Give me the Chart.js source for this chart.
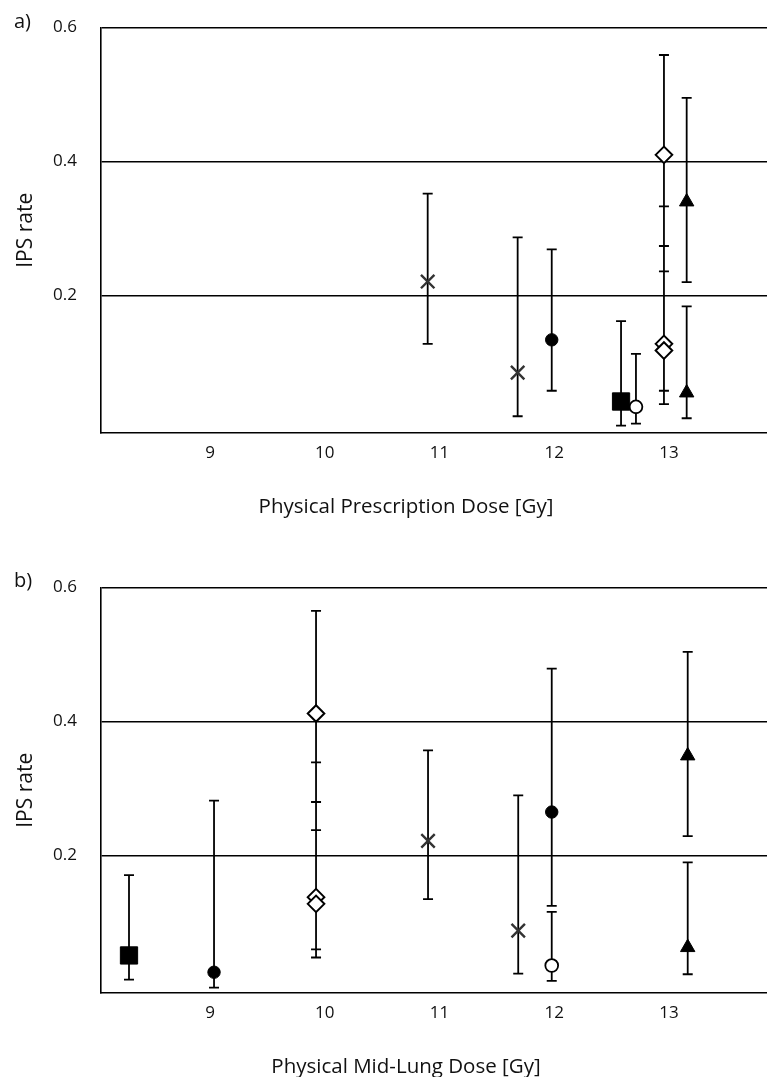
<!DOCTYPE html>
<html>
<head>
<meta charset="utf-8">
<script src="https://cdn.jsdelivr.net/npm/chart.js@4/dist/chart.umd.min.js"></script>
<style>
  html, body { margin: 0; padding: 0; background: #fff; }
  body { width: 767px; height: 1077px; position: relative; overflow: hidden; font-family: "Open Sans", sans-serif; color: #111; }
  .wrap { position: absolute; left: 0; width: 767px; }
  .lbl { position: absolute; font-size: 20px; white-space: nowrap; color: #111; }
  .xt { position: absolute; font-size: 20.5px; white-space: nowrap; transform: translateX(-50%); color: #111; }
</style>
</head>
<body>
<div class="wrap" style="top:0;height:560px;"><canvas id="ca" width="767" height="560"></canvas></div>
<div class="wrap" style="top:560px;height:517px;"><canvas id="cb" width="767" height="517"></canvas></div>
<div class="lbl" style="left:14px;top:7px;">a)</div>
<div class="lbl" style="left:14px;top:566px;">b)</div>
<div class="xt" style="left:406px;top:491px;">Physical Prescription Dose [Gy]</div>
<div class="xt" style="left:406px;top:1051px;">Physical Mid-Lung Dose [Gy]</div>
<script>
// ---- axis ticks ----
const xTicks = [9, 10, 11, 12, 13];
const yTicks = [0.2, 0.4, 0.6];

// ---- panel a: Physical Prescription Dose ----
const aCrossX = [10.897, 11.681];
const aCrossY = [0.221, 0.085];
const aCrossLo = [0.128, 0.020];
const aCrossHi = [0.352, 0.287];

const aDotX = [11.978];
const aDotY = [0.134];
const aDotLo = [0.058];
const aDotHi = [0.269];

const aSquareX = [12.582];
const aSquareY = [0.042];
const aSquareLo = [0.006];
const aSquareHi = [0.162];

const aRingX = [12.712];
const aRingY = [0.034];
const aRingLo = [0.009];
const aRingHi = [0.113];

const aDiamondX = [12.956, 12.956, 12.956];
const aDiamondY = [0.410, 0.128, 0.118];
const aDiamondLo = [0.236, 0.058, 0.038];
const aDiamondHi = [0.559, 0.333, 0.274];

const aTriX = [13.154, 13.154];
const aTriY = [0.340, 0.055];
const aTriLo = [0.220, 0.017];
const aTriHi = [0.495, 0.184];

// ---- panel b: Physical Mid-Lung Dose ----
const bCrossX = [10.900, 11.686];
const bCrossY = [0.222, 0.088];
const bCrossLo = [0.135, 0.024];
const bCrossHi = [0.357, 0.290];

const bDotX = [9.035, 11.978];
const bDotY = [0.026, 0.265];
const bDotLo = [0.003, 0.125];
const bDotHi = [0.282, 0.479];

const bSquareX = [8.294];
const bSquareY = [0.051];
const bSquareLo = [0.015];
const bSquareHi = [0.171];

const bRingX = [11.978];
const bRingY = [0.036];
const bRingLo = [0.013];
const bRingHi = [0.116];

const bDiamondX = [9.924, 9.924, 9.924];
const bDiamondY = [0.412, 0.138, 0.128];
const bDiamondLo = [0.238, 0.060, 0.048];
const bDiamondHi = [0.565, 0.339, 0.280];

const bTriX = [13.163, 13.163];
const bTriY = [0.349, 0.063];
const bTriLo = [0.229, 0.023];
const bTriHi = [0.504, 0.190];

// ---- marker styles ----
const styles = {
  cross:   { pointStyle: 'crossRot', pointRadius: 9.5, pointBorderWidth: 2.4, pointBorderColor: '#333', pointBackgroundColor: '#333' },
  dot:     { pointStyle: 'circle', pointRadius: 6.2, pointBorderWidth: 1, pointBorderColor: '#000', pointBackgroundColor: '#000' },
  square:  { pointStyle: 'rect', pointRadius: 12.2, pointBorderWidth: 1, pointBorderColor: '#000', pointBackgroundColor: '#000' },
  ring:    { pointStyle: 'circle', pointRadius: 6.4, pointBorderWidth: 1.8, pointBorderColor: '#000', pointBackgroundColor: '#fff' },
  diamond: { pointStyle: 'rectRot', pointRadius: 8.3, pointBorderWidth: 2, pointBorderColor: '#000', pointBackgroundColor: '#fff' },
  tri:     { pointStyle: 'triangle', pointRadius: 8.3, pointBorderWidth: 1, pointBorderColor: '#000', pointBackgroundColor: '#000' }
};

function seriesDatasets(name, xs, ys, lo, hi) {
  const bars = [];
  const caps = [];
  const marks = [];
  xs.forEach((x, i) => {
    bars.push({ x: x, y: lo[i] }, { x: x, y: hi[i] }, { x: x, y: null });
    caps.push({ x: x, y: lo[i] }, { x: x, y: hi[i] });
    marks.push({ x: x, y: ys[i] });
  });
  return [
    { label: name + ' range', type: 'line', data: bars, showLine: true, spanGaps: false,
      borderColor: '#000', borderWidth: 1.8, pointRadius: 0, order: 3 },
    { label: name + ' caps', type: 'scatter', data: caps, pointStyle: 'line',
      pointRadius: 5, pointBorderWidth: 1.8, pointBorderColor: '#000', order: 2 },
    Object.assign({ label: name, type: 'scatter', data: marks, order: 1 }, styles[name])
  ];
}

function makeChart(id, series, topPad, xScaleHeight) {
  const datasets = [];
  series.forEach(s => datasets.push(...seriesDatasets(...s)));
  return new Chart(document.getElementById(id), {
    type: 'scatter',
    data: { datasets: datasets },
    options: {
      responsive: false,
      animation: false,
      events: [],
      layout: { autoPadding: false, padding: { top: topPad, right: 0, left: 0, bottom: 0 } },
      plugins: { legend: { display: false }, tooltip: { enabled: false } },
      scales: {
        x: {
          type: 'linear', min: 8.05, max: 13.854,
          afterBuildTicks: sc => { sc.ticks = xTicks.map(v => ({ value: v })); },
          afterFit: sc => { sc.height = xScaleHeight; sc.paddingLeft = 0; sc.paddingRight = 0; },
          grid: { display: false, drawTicks: false },
          border: { display: true, color: '#000', width: 1.6 },
          ticks: { padding: 10, color: '#111', font: { family: 'Open Sans', size: 17 } }
        },
        y: {
          type: 'linear', min: -0.005, max: 0.6,
          afterBuildTicks: sc => { sc.ticks = yTicks.map(v => ({ value: v })); },
          afterFit: sc => { sc.width = 101; sc.paddingTop = 0; sc.paddingBottom = 0; },
          grid: { display: true, drawTicks: false, color: '#000', lineWidth: 1.4 },
          border: { display: true, color: '#000', width: 1.6 },
          ticks: { padding: 24, color: '#111', font: { family: 'Open Sans', size: 17 },
                   callback: v => v.toFixed(1) },
          title: { display: true, text: 'IPS rate', color: '#111',
                   font: { family: 'Open Sans', size: 21 }, padding: { top: 13, bottom: 0 } }
        }
      }
    }
  });
}

makeChart('ca', [
  ['cross', aCrossX, aCrossY, aCrossLo, aCrossHi],
  ['dot', aDotX, aDotY, aDotLo, aDotHi],
  ['square', aSquareX, aSquareY, aSquareLo, aSquareHi],
  ['ring', aRingX, aRingY, aRingLo, aRingHi],
  ['diamond', aDiamondX, aDiamondY, aDiamondLo, aDiamondHi],
  ['tri', aTriX, aTriY, aTriLo, aTriHi]
], 27.5, 127);

makeChart('cb', [
  ['cross', bCrossX, bCrossY, bCrossLo, bCrossHi],
  ['dot', bDotX, bDotY, bDotLo, bDotHi],
  ['square', bSquareX, bSquareY, bSquareLo, bSquareHi],
  ['ring', bRingX, bRingY, bRingLo, bRingHi],
  ['diamond', bDiamondX, bDiamondY, bDiamondLo, bDiamondHi],
  ['tri', bTriX, bTriY, bTriLo, bTriHi]
], 27.5, 84);
</script>
</body>
</html>
